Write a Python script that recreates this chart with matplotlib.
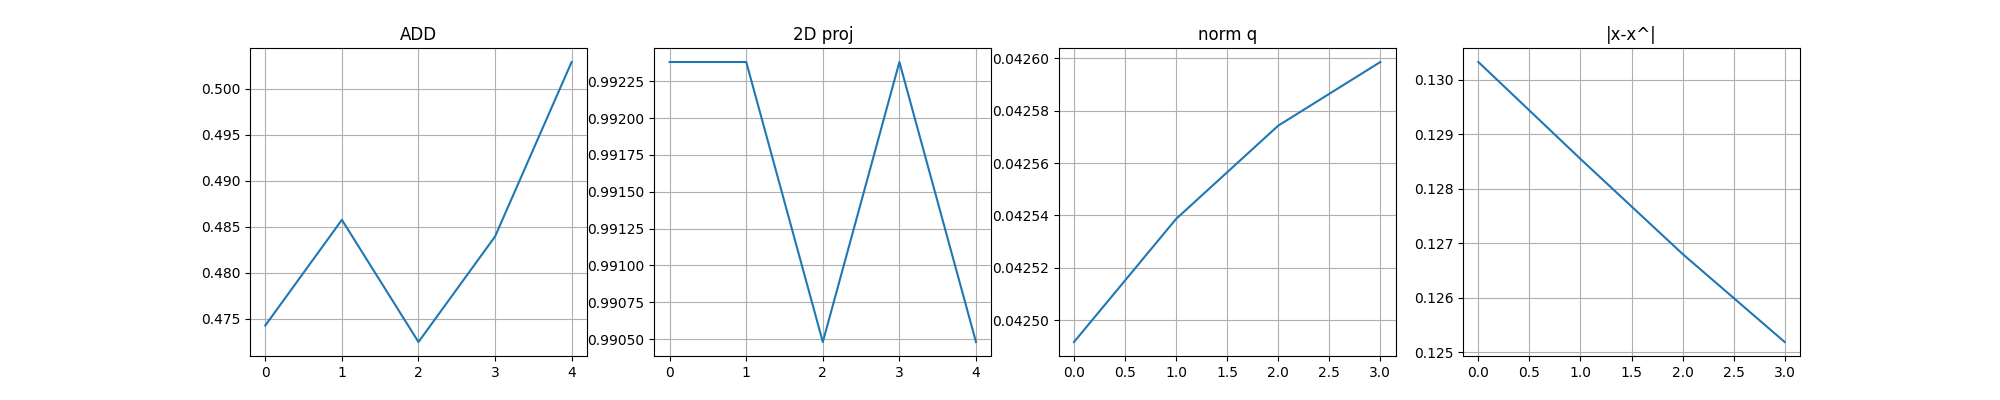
import numpy as np
import matplotlib
matplotlib.use("Agg")
import matplotlib.pyplot as plt

# values
add = [0.47427, 0.48576, 0.47247, 0.48395, 0.50293]
proj2d = [0.99238, 0.99238, 0.99048, 0.99238, 0.99048]
norm_q = [0.0424917, 0.0425387, 0.0425743, 0.0425986]
x_err = [0.130325, 0.128547, 0.126804, 0.125189]

series = [add, proj2d, norm_q, x_err]
titles = ['ADD', '2D proj', 'norm q', '|x-x^|']

fig, axes = plt.subplots(1, 4, figsize=(20, 4))
for ax, vals, title in zip(axes, series, titles):
    ax.plot(vals)
    ax.set_title(title)
    ax.grid()

fig.savefig('out.png', dpi=100)
